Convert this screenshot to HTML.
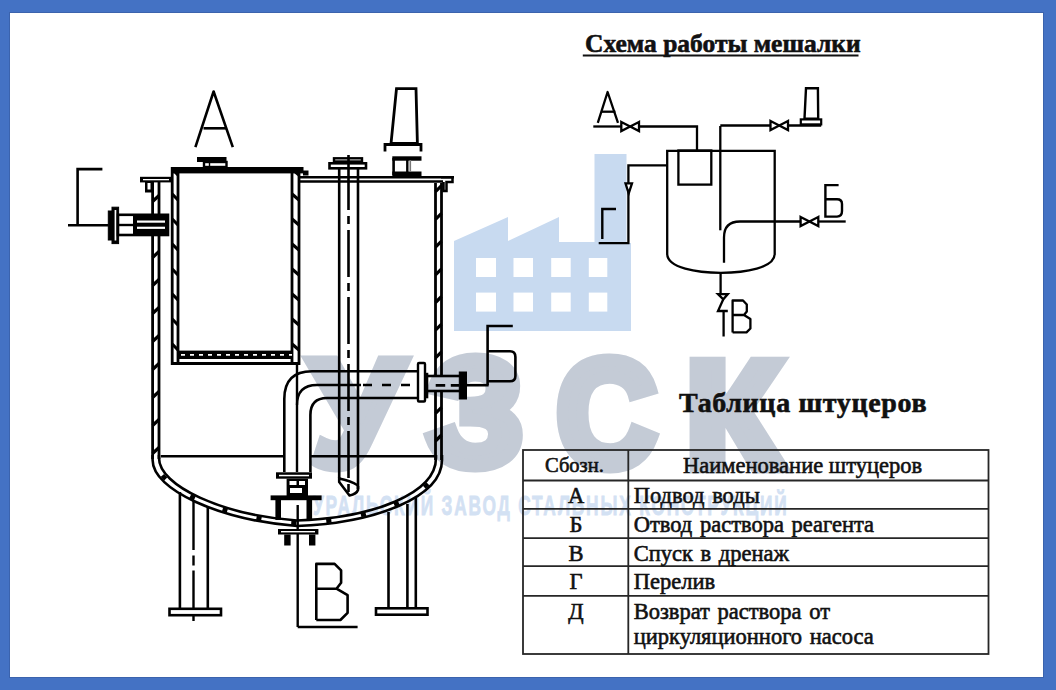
<!DOCTYPE html>
<html><head><meta charset="utf-8"><style>
html,body{margin:0;padding:0;width:1056px;height:690px;overflow:hidden;background:#4472c4;}
#page{position:absolute;left:10px;top:12.5px;width:1033px;height:664.5px;background:#fff;box-shadow:0 0 0 1px #3b63ad;}
svg{position:absolute;left:0;top:0;}
.t{position:absolute;font-family:"Liberation Serif",serif;color:#111;white-space:nowrap;line-height:1;-webkit-text-stroke:0.6px #111;}
</style></head><body>
<div id="page"></div>
<svg width="1056" height="690" viewBox="0 0 1056 690">
<g><polygon points="454,241 508,217 508,241 559,217 559,242 594.5,242 594.5,154 626.5,154 626.5,243 631,243 631,331 454,331" fill="#c8daf0"/>
<rect x="476" y="258" width="20" height="19" fill="#fff"/>
<rect x="476" y="292.6" width="20" height="19" fill="#fff"/>
<rect x="513.5" y="258" width="19.5" height="19" fill="#fff"/>
<rect x="513.5" y="292.6" width="19.5" height="19" fill="#fff"/>
<rect x="551.2" y="258" width="19.5" height="19" fill="#fff"/>
<rect x="551.2" y="292.6" width="19.5" height="19" fill="#fff"/>
<rect x="588.8" y="258" width="18.5" height="19" fill="#fff"/>
<rect x="588.8" y="292.6" width="18.5" height="19" fill="#fff"/>
<text transform="translate(311.39,464.65) scale(0.9130,0.9280)" font-family="Liberation Sans" font-weight="bold" font-size="160" fill="#c4cbd6" stroke="#c4cbd6" stroke-width="14" stroke-linejoin="miter">У</text>
<text transform="translate(427.85,464.50) scale(0.9515,0.9449)" font-family="Liberation Sans" font-weight="bold" font-size="160" fill="#c4cbd6" stroke="#c4cbd6" stroke-width="14" stroke-linejoin="miter">З</text>
<text transform="translate(557.00,465.54) scale(0.8559,0.9402)" font-family="Liberation Sans" font-weight="bold" font-size="160" fill="#c4cbd6" stroke="#c4cbd6" stroke-width="14" stroke-linejoin="miter">С</text>
<text transform="translate(686.12,466.95) scale(0.9703,0.9355)" font-family="Liberation Sans" font-weight="bold" font-size="160" fill="#c4cbd6" stroke="#c4cbd6" stroke-width="14" stroke-linejoin="miter">К</text>
<text transform="translate(313,515) scale(0.64,1)" textLength="740" lengthAdjust="spacing" font-family="Liberation Sans" font-weight="bold" font-size="27" fill="#d3e1f3" stroke="#d3e1f3" stroke-width="0.8">УРАЛЬСКИЙ ЗАВОД СТАЛЬНЫХ КОНСТРУКЦИЙ</text></g>
<g fill="none" stroke="#000" stroke-linecap="butt" stroke-linejoin="miter">
<polyline points="195.4,147.2 213.6,91.5 232.8,147.2" stroke-width="2.6" stroke-linejoin="round"/>
<line x1="203.5" y1="128.3" x2="227" y2="128.3" stroke-width="2.6" />
<polyline points="102.4,169.1 77.6,169.1 77.6,225" stroke-width="2.6" />
<line x1="68" y1="225.2" x2="108.5" y2="225.2" stroke-width="2.6" />
<rect x="140" y="176.8" width="31" height="5.6" fill="#000" stroke="none" />
<rect x="143" y="179" width="26" height="1.3" fill="#fff" stroke="none" />
<rect x="145" y="182" width="7.5" height="10.5" fill="#000" stroke="none" />
<rect x="147.5" y="183" width="3" height="6.5" fill="#fff" stroke="none" />
<line x1="152.6" y1="182" x2="152.6" y2="459" stroke-width="2.8" />
<line x1="159" y1="182" x2="159" y2="459" stroke-width="2.8" />
<line x1="152.6" y1="201.5" x2="159" y2="195.5" stroke-width="3.2" />
<line x1="152.6" y1="229.5" x2="159" y2="223.5" stroke-width="3.2" />
<line x1="152.6" y1="257.5" x2="159" y2="251.5" stroke-width="3.2" />
<line x1="152.6" y1="285.5" x2="159" y2="279.5" stroke-width="3.2" />
<line x1="152.6" y1="313.5" x2="159" y2="307.5" stroke-width="3.2" />
<line x1="152.6" y1="341.5" x2="159" y2="335.5" stroke-width="3.2" />
<line x1="152.6" y1="369.5" x2="159" y2="363.5" stroke-width="3.2" />
<line x1="152.6" y1="397.5" x2="159" y2="391.5" stroke-width="3.2" />
<line x1="152.6" y1="425.5" x2="159" y2="419.5" stroke-width="3.2" />
<line x1="152.6" y1="453.5" x2="159" y2="447.5" stroke-width="3.2" />
<line x1="435.5" y1="183" x2="435.5" y2="377" stroke-width="2.8" />
<line x1="441.5" y1="183" x2="441.5" y2="377" stroke-width="2.8" />
<line x1="435.5" y1="392" x2="435.5" y2="460" stroke-width="2.8" />
<line x1="441.5" y1="392" x2="441.5" y2="460" stroke-width="2.8" />
<line x1="435.5" y1="191.7" x2="441.5" y2="185.7" stroke-width="3.2" />
<line x1="435.5" y1="219.39999999999998" x2="441.5" y2="213.39999999999998" stroke-width="3.2" />
<line x1="435.5" y1="247.1" x2="441.5" y2="241.1" stroke-width="3.2" />
<line x1="435.5" y1="274.79999999999995" x2="441.5" y2="268.79999999999995" stroke-width="3.2" />
<line x1="435.5" y1="302.5" x2="441.5" y2="296.5" stroke-width="3.2" />
<line x1="435.5" y1="330.2" x2="441.5" y2="324.2" stroke-width="3.2" />
<line x1="435.5" y1="357.9" x2="441.5" y2="351.9" stroke-width="3.2" />
<line x1="435.5" y1="413.29999999999995" x2="441.5" y2="407.29999999999995" stroke-width="3.2" />
<line x1="435.5" y1="441.0" x2="441.5" y2="435.0" stroke-width="3.2" />
<rect x="171" y="167" width="132.5" height="6.4" fill="#000" stroke="none" />
<rect x="303" y="170.5" width="5.5" height="5" fill="#000" stroke="none" />
<line x1="172.2" y1="167" x2="172.2" y2="365" stroke-width="2.8" />
<line x1="178" y1="167" x2="178" y2="365" stroke-width="2.8" />
<line x1="172.2" y1="169" x2="178" y2="175" stroke-width="3.2" />
<line x1="172.2" y1="194" x2="178" y2="200" stroke-width="3.2" />
<line x1="172.2" y1="219" x2="178" y2="225" stroke-width="3.2" />
<line x1="172.2" y1="244" x2="178" y2="250" stroke-width="3.2" />
<line x1="172.2" y1="269" x2="178" y2="275" stroke-width="3.2" />
<line x1="172.2" y1="294" x2="178" y2="300" stroke-width="3.2" />
<line x1="172.2" y1="319" x2="178" y2="325" stroke-width="3.2" />
<line x1="172.2" y1="344" x2="178" y2="350" stroke-width="3.2" />
<line x1="292" y1="167" x2="292" y2="365" stroke-width="2.8" />
<line x1="299" y1="167" x2="299" y2="365" stroke-width="2.8" />
<line x1="292" y1="169" x2="299" y2="175" stroke-width="3.2" />
<line x1="292" y1="194" x2="299" y2="200" stroke-width="3.2" />
<line x1="292" y1="219" x2="299" y2="225" stroke-width="3.2" />
<line x1="292" y1="244" x2="299" y2="250" stroke-width="3.2" />
<line x1="292" y1="269" x2="299" y2="275" stroke-width="3.2" />
<line x1="292" y1="294" x2="299" y2="300" stroke-width="3.2" />
<line x1="292" y1="319" x2="299" y2="325" stroke-width="3.2" />
<line x1="292" y1="344" x2="299" y2="350" stroke-width="3.2" />
<line x1="171" y1="363.5" x2="300" y2="363.5" stroke-width="3" />
<rect x="177.8" y="350.6" width="115" height="8.4" fill="#000" stroke="none" />
<line x1="181" y1="354.8" x2="292" y2="354.8" stroke="#fff" stroke-width="1.8" stroke-dasharray="4 5"/>
<rect x="108.3" y="211" width="4.5" height="29" fill="#000" stroke="#000" stroke-width="rx="1.5"" />
<rect x="112" y="207.2" width="6.6" height="36.4" fill="#000" stroke="#000" stroke-width="rx="1.5"" />
<rect x="114.6" y="210" width="1.7" height="30.5" fill="#fff" stroke="none" />
<rect x="118" y="214.8" width="50" height="20.2" fill="#fff" stroke="#000" stroke-width="2.6" />
<rect x="133" y="214.8" width="35" height="20.8" fill="#000" stroke="none" />
<rect x="137" y="220.5" width="28" height="2.2" fill="#fff" stroke="none" />
<rect x="137" y="226.7" width="28" height="2.2" fill="#fff" stroke="none" />
<line x1="118" y1="225" x2="133" y2="225" stroke-width="2.4" />
<rect x="197" y="157" width="29.5" height="5" fill="#000" stroke="none" />
<rect x="204" y="162" width="22.5" height="5" fill="#fff" stroke="#000" stroke-width="2.4" />
<line x1="209.5" y1="162" x2="209.5" y2="167" stroke-width="1.4" />
<line x1="300" y1="177.3" x2="454" y2="177.3" stroke-width="2.6" />
<line x1="300" y1="181.5" x2="443" y2="181.5" stroke-width="2.6" />
<path d="M441,177.3 L452.5,177.3 L452.5,182 L446.5,182 L446.5,191 L443.5,191 L443.5,182" stroke-width="2.5" />
<line x1="339.2" y1="168.8" x2="339.2" y2="478" stroke-width="2.6" />
<line x1="358" y1="168.8" x2="358" y2="489" stroke-width="2.6" />
<rect x="334" y="158.3" width="28" height="3.2" fill="#fff" stroke="#000" stroke-width="2.4" />
<rect x="329.5" y="163.3" width="36.5" height="5" fill="#fff" stroke="#000" stroke-width="2.6" />
<path d="M339.2,477.5 L339.2,482 L349.5,495.5 Q356.5,494 358,490 L358,486" stroke-width="2.6" stroke-linejoin="round"/>
<path d="M339.2,478.5 Q350,480.5 358,485.5" stroke-width="2.4" />
<line x1="348.5" y1="155" x2="348.5" y2="495" stroke-width="2.6" stroke-dasharray="55 6 8 6 47 6 8 6 47 6 8 6 47 6 8 6 47 6 8 6 47 6 8 6 100"/>
<polygon points="396.5,88.7 416,88.7 417.4,143.5 391,143.5" fill="#fff" stroke="#000" stroke-width="2.8"/>
<polyline points="385,151.5 385,144.5 421,144.5 421,151.5" stroke-width="2.8" />
<rect x="392.3" y="156.3" width="29.2" height="4.4" fill="#000" stroke="none" />
<rect x="392.3" y="171.5" width="29.2" height="4.6" fill="#000" stroke="none" />
<line x1="393.6" y1="158" x2="393.6" y2="175" stroke-width="2.6" />
<line x1="407.3" y1="158" x2="407.3" y2="175" stroke-width="2.4" />
<line x1="410.3" y1="160" x2="410.3" y2="172" stroke-width="1.6" stroke="#777"/>
<path d="M284.3,472 L284.3,399 Q284.3,371.3 312,371.3 L418,371.3" stroke-width="2.6" />
<path d="M310.4,472 L310.4,415 Q310.4,398 327,398 L418,398" stroke-width="2.6" />
<line x1="297" y1="365" x2="297" y2="472" stroke-width="2.4" />
<path d="M297,405 Q297,385 317,385 L361,385" stroke-width="2.4" />
<line x1="363" y1="385" x2="418" y2="385" stroke-width="2.6" stroke-dasharray="9 10"/>
<rect x="418" y="363" width="7" height="38.5" fill="#fff" stroke="#000" stroke-width="2.4" rx="1"/>
<rect x="424.8" y="372.8" width="3.5" height="25.5" fill="#000" stroke="none" />
<line x1="428" y1="376" x2="460" y2="376" stroke-width="2.6" />
<line x1="428" y1="391" x2="460" y2="391" stroke-width="2.6" />
<line x1="435.7" y1="385.3" x2="459" y2="385.3" stroke-width="2.8" stroke-dasharray="9.5 5.6 8.2 10"/>
<rect x="459.3" y="372" width="7.2" height="27" fill="#000" stroke="#000" stroke-width="rx="2"" />
<line x1="466" y1="385.2" x2="488.6" y2="385.2" stroke-width="2.6" />
<path d="M512.8,326 L487.6,326 L487.6,385.2 M487.6,351.3 L510,351.3 Q515.4,351.3 515.4,357 L515.4,376 Q515.4,381.3 510,381.3 L487.6,381.3" stroke-width="2.6" />
<line x1="161" y1="456.2" x2="284.3" y2="456.2" stroke-width="2.6" />
<line x1="310.4" y1="456.2" x2="436" y2="456.2" stroke-width="2.6" />
<path d="M152.6,455 L152.6,460 C152.6,490 220,520 297,526 C376,523 442,497 442,460 L442,455" stroke-width="2.6" />
<path d="M159,455 L159,458 C159,486 222,515 297,520.5 C374,518 436,493 436,458 L436,455" stroke-width="2.6" />
<path d="M155.8,459 C155.8,488 221,517.5 297,523.2 C375,520.5 439,495 439,459" stroke-width="4.2" stroke-dasharray="5 30" stroke-dashoffset="-18"/>
<rect x="276" y="472.3" width="36" height="6.4" fill="#000" stroke="none" />
<rect x="279" y="474.8" width="30" height="1.5" fill="#fff" stroke="none" />
<rect x="286.6" y="478.7" width="21.4" height="17.5" fill="#000" stroke="none" />
<rect x="289.5" y="481" width="7" height="4" fill="#fff" stroke="none" />
<rect x="299" y="481" width="6" height="4" fill="#fff" stroke="none" />
<rect x="290" y="488" width="12" height="5" fill="#fff" stroke="none" />
<rect x="270.6" y="495.4" width="51" height="4.8" fill="#000" stroke="none" />
<rect x="275.4" y="500" width="5.6" height="20" fill="#000" stroke="none" />
<rect x="306.5" y="500" width="5.6" height="20" fill="#000" stroke="none" />
<line x1="297.7" y1="505" x2="297.7" y2="627" stroke-width="2.4" />
<rect x="278" y="529" width="40.4" height="5.5" fill="#000" stroke="none" />
<rect x="281" y="531" width="34" height="1.4" fill="#fff" stroke="none" />
<rect x="284.2" y="534.5" width="6.4" height="11" fill="#000" stroke="none" />
<rect x="309" y="534.5" width="6.4" height="11" fill="#000" stroke="none" />
<line x1="297.7" y1="627" x2="357.6" y2="627" stroke-width="2.6" />
<path d="M316.3,620 L316.3,563.9 L334.6,563.9 L341.1,570.4 L341.1,582.8 L336.5,588.7 L316.3,588.7 M336.5,588.7 L347.6,595.2 L347.6,612.8 L340.4,620 L316.3,620" stroke-width="2.6" stroke-linejoin="round"/>
<line x1="179.9" y1="492" x2="179.9" y2="608" stroke-width="2.6" />
<line x1="193.5" y1="500" x2="193.5" y2="621" stroke-width="2.4" stroke-dasharray="50 5.5 10 5 100"/>
<line x1="207.8" y1="506" x2="207.8" y2="608" stroke-width="2.6" />
<rect x="169.5" y="608.8" width="51.5" height="6.4" fill="#fff" stroke="#000" stroke-width="2.6" />
<line x1="388.5" y1="512" x2="388.5" y2="608" stroke-width="2.6" />
<line x1="407.4" y1="504" x2="407.4" y2="608" stroke-width="2.6" />
<line x1="415.8" y1="498" x2="415.8" y2="608" stroke-width="2.6" />
<rect x="376" y="608.3" width="51.5" height="6.4" fill="#fff" stroke="#000" stroke-width="2.6" />
<polyline points="597.8,122.8 607.6,92 618,122.8" stroke-width="2.3" stroke-linejoin="round"/>
<line x1="601.7" y1="111.7" x2="615.4" y2="111.7" stroke-width="2.3" />
<line x1="593.3" y1="126.5" x2="621.3" y2="126.5" stroke-width="2.3" />
<polygon points="621.3,121.9 630.15,126.5 621.3,131.1" fill="#fff" stroke="#000" stroke-width="2.3"/>
<polygon points="639,121.9 630.15,126.5 639,131.1" fill="#fff" stroke="#000" stroke-width="2.3"/>
<polyline points="639,126.5 697,126.5 697,150.5" stroke-width="2.3" />
<path d="M667.2,150.8 L667.2,254 C667.5,268 697,272.8 721,272.8 C745,272.8 774.5,268 774.7,254 L774.7,150.8 Z" stroke-width="2.3" />
<rect x="678.4" y="150.5" width="32.9" height="34.1" fill="none" stroke="#000" stroke-width="2.3" />
<line x1="720.3" y1="126" x2="720.3" y2="230.3" stroke-width="2.3" />
<polyline points="720.3,125.5 770.5,125.5" stroke-width="2.3" />
<polygon points="770.5,120.9 779.25,125.5 770.5,130.1" fill="#fff" stroke="#000" stroke-width="2.3"/>
<polygon points="788,120.9 779.25,125.5 788,130.1" fill="#fff" stroke="#000" stroke-width="2.3"/>
<line x1="788" y1="125.5" x2="821.2" y2="125.5" stroke-width="2.3" />
<polygon points="806,88.3 817.9,88.3 818.2,118.6 804.5,118.6" fill="#fff" stroke="#000" stroke-width="2.4"/>
<rect x="800.8" y="119.4" width="20.4" height="5" fill="none" stroke="#000" stroke-width="2.2" />
<path d="M724,262.7 L724,237.4 Q724,221.5 740,221.5 L800.6,221.5" stroke-width="2.3" />
<polygon points="800.6,216.9 809.45,221.5 800.6,226.1" fill="#fff" stroke="#000" stroke-width="2.3"/>
<polygon points="818.3,216.9 809.45,221.5 818.3,226.1" fill="#fff" stroke="#000" stroke-width="2.3"/>
<line x1="818.3" y1="221.5" x2="845.7" y2="221.5" stroke-width="2.3" />
<path d="M838.6,185.1 L825.4,185.1 L825.4,216.6 L837,216.6 Q842,216.6 842,211 L842,204 Q842,199.3 837,199.3 L825.4,199.3" stroke-width="2.4" />
<polyline points="666.8,165.4 628.4,165.4 628.4,243.1 598.7,243.1" stroke-width="2.3" />
<polygon points="625.5,183.3 632,183.3 628.7,193.4" fill="#fff" stroke="#000" stroke-width="2.3"/>
<polyline points="616,209 602.3,209 602.3,239" stroke-width="2.4" />
<line x1="720.6" y1="272.6" x2="720.6" y2="294.1" stroke-width="2.3" />
<polygon points="718,294.1 727.8,294.1 723.3,299.3" fill="#fff" stroke="#000" stroke-width="2.3"/>
<polyline points="723.3,299.3 718,311 727.8,311" stroke-width="2.3" />
<line x1="723.6" y1="311" x2="723.6" y2="336.5" stroke-width="2.3" />
<path d="M732.6,332.4 L732.6,300.5 L743,300.5 L746.8,304.5 L746.8,311.5 L744,315 L732.6,315 M744,315 L750.4,319 L750.4,328.5 L746.5,332.4 L732.6,332.4" stroke-width="2.3" stroke-linejoin="round"/>
</g>
<rect x="523" y="450" width="465.5" height="204" fill="none" stroke="#262626" stroke-width="1.8"/><line x1="523" y1="480.5" x2="988.5" y2="480.5" stroke="#262626" stroke-width="1.8"/><line x1="523" y1="508.8" x2="988.5" y2="508.8" stroke="#262626" stroke-width="1.8"/><line x1="523" y1="538.2" x2="988.5" y2="538.2" stroke="#262626" stroke-width="1.8"/><line x1="523" y1="566.2" x2="988.5" y2="566.2" stroke="#262626" stroke-width="1.8"/><line x1="523" y1="595.8" x2="988.5" y2="595.8" stroke="#262626" stroke-width="1.8"/><line x1="628.3" y1="450" x2="628.3" y2="654" stroke="#262626" stroke-width="1.8"/>
<line x1="582.8" y1="55.6" x2="858.5" y2="55.6" stroke="#111" stroke-width="2"/>
</svg>
<div class="t" style="left:585px;top:30.8px;font-size:25.5px;font-weight:bold;">Схема работы мешалки</div>
<div class="t" style="left:679px;top:388.7px;font-size:28px;font-weight:bold;letter-spacing:0.65px;">Таблица штуцеров</div>
<div class="t" style="left:545px;top:455px;font-size:20.5px;">Сбозн.</div>
<div class="t" style="left:683px;top:455px;font-size:22.5px;">Наименование штуцеров</div>
<div class="t" style="left:523px;width:105px;text-align:center;padding-left:1px;box-sizing:border-box;top:485px;font-size:22.5px;">А</div>
<div class="t" style="left:633.7px;top:485px;font-size:22.5px;word-spacing:2px;">Подвод воды</div>
<div class="t" style="left:523px;width:105px;text-align:center;padding-left:1px;box-sizing:border-box;top:514px;font-size:22.5px;">Б</div>
<div class="t" style="left:633.7px;top:514px;font-size:22.5px;word-spacing:2px;">Отвод раствора реагента</div>
<div class="t" style="left:523px;width:105px;text-align:center;padding-left:1px;box-sizing:border-box;top:543px;font-size:22.5px;">В</div>
<div class="t" style="left:633.7px;top:543px;font-size:22.5px;word-spacing:2px;">Спуск в дренаж</div>
<div class="t" style="left:523px;width:105px;text-align:center;padding-left:1px;box-sizing:border-box;top:571px;font-size:22.5px;">Г</div>
<div class="t" style="left:633.7px;top:571px;font-size:22.5px;word-spacing:2px;">Перелив</div>
<div class="t" style="left:523px;width:105px;text-align:center;padding-left:1px;box-sizing:border-box;top:601px;font-size:22.5px;">Д</div>
<div class="t" style="left:633.7px;top:601px;font-size:22.5px;word-spacing:2px;">Возврат раствора от</div>
<div class="t" style="left:633.7px;top:626px;font-size:22.5px;word-spacing:2px;">циркуляционного насоса</div>
</body></html>
